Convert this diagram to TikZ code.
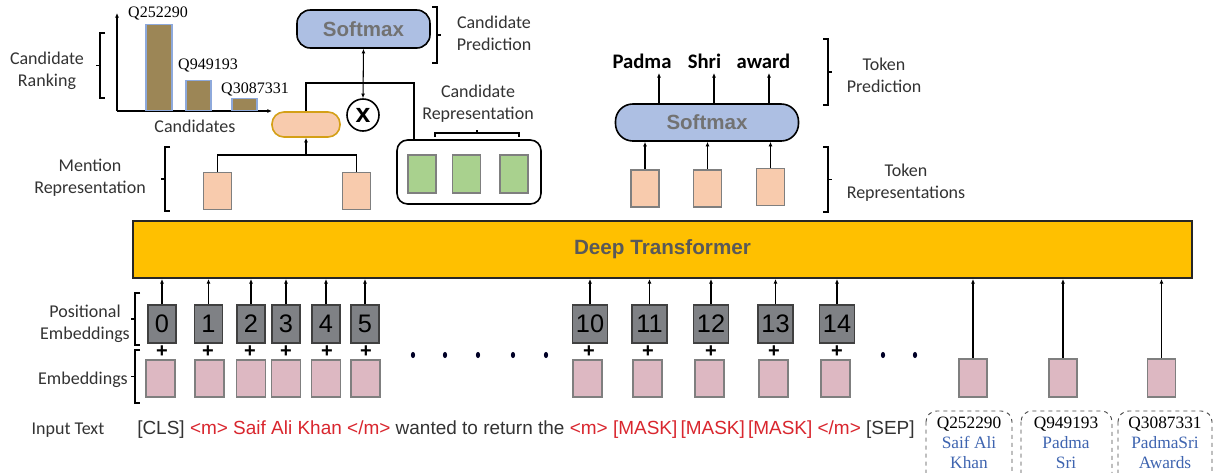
\documentclass[tikz,border=0pt]{standalone}
\usepackage{fontspec}
\setmainfont{Carlito}
\newfontfamily\arialf{Liberation Sans}
\newfontfamily\timesf{Liberation Serif}
\usetikzlibrary{arrows.meta,calc}
\definecolor{peachc}{HTML}{F8CBAD}
\definecolor{greenc}{HTML}{A9D18E}
\definecolor{pinkc}{HTML}{DDB8C2}
\definecolor{posc}{HTML}{7F8185}
\definecolor{goldc}{HTML}{FFC000}
\definecolor{softc}{HTML}{ADBFE3}
\definecolor{barc}{HTML}{9C8656}
\definecolor{barline}{HTML}{8EA9DB}
\definecolor{redt}{HTML}{D9262E}
\definecolor{bluet}{HTML}{3E64B0}
\definecolor{darkt}{HTML}{333333}
\definecolor{grayt}{HTML}{595959}
\definecolor{boxgray}{HTML}{7F7F7F}
\definecolor{pillline}{HTML}{D4A017}
\tikzset{
  arr/.style={-{Latex[length=3.5pt,width=3pt]}, line width=0.8pt},
  darr/.style={{Latex[length=3.5pt,width=3pt]}-{Latex[length=3.5pt,width=3pt]}, line width=0.8pt},
  conn/.style={line width=0.8pt},
  peach/.style={draw=boxgray, line width=1.2pt, fill=peachc, minimum width=21pt, minimum height=27.75pt, inner sep=0pt},
  greenbox/.style={draw=boxgray, line width=1.2pt, fill=greenc, minimum width=21pt, minimum height=28.5pt, inner sep=0pt},
  pinkbox/.style={draw=boxgray, line width=1.2pt, fill=pinkc, minimum width=21.5pt, minimum height=27.75pt, inner sep=0pt},
  posbox/.style={draw=black!75, line width=1.2pt, fill=posc, minimum width=21pt, minimum height=28.5pt, inner sep=0pt, font=\arialf\fontsize{19}{19}\selectfont},
  posbox2/.style={posbox, minimum width=26pt},
  softbox/.style={draw=black, line width=1.2pt, fill=softc, inner sep=0pt, font=\arialf\bfseries\fontsize{15.4}{16}\selectfont, text=grayt!85},
  lbl/.style={font=\fontsize{13.5}{16.5}\selectfont, align=center, text=darkt},
  qlbl/.style={font=\timesf\fontsize{12}{14}\selectfont},
  plus/.style={font=\arialf\bfseries\fontsize{15}{15}\selectfont},
  word/.style={font=\bfseries\fontsize{15.5}{16}\selectfont},
  entbox/.style={draw=black!70, dashed, line width=0.7pt, rounded corners=8pt},
  brk/.style={line width=1.3pt},
}
\newcommand\leftbrk[3]{\draw[brk] (#1+5,#2) -- (#1,#2) -- (#1,#3) -- (#1+5,#3); \draw[brk] (#1,{(#2+#3)/2}) -- (#1-4,{(#2+#3)/2});}
\newcommand\rightbrk[3]{\draw[brk] (#1-5,#2) -- (#1,#2) -- (#1,#3) -- (#1-5,#3); \draw[brk] (#1,{(#2+#3)/2}) -- (#1+4,{(#2+#3)/2});}
\begin{document}
\begin{tikzpicture}[x=0.75pt,y=-0.75pt]
\useasboundingbox (0,0) rectangle (1214,472);
\fill[white] (0,0) rectangle (1214,472);

% ---------- Transformer ----------
\node[draw=black!85, line width=1.5pt, fill=goldc, minimum width=794pt, minimum height=42.75pt, inner sep=0pt,
      font=\arialf\bfseries\fontsize{15.5}{16}\selectfont, text=grayt] (tr) at (662.5,249.5) {Deep Transformer};

% ---------- Bar chart ----------
\coordinate (org) at (117,111);
\coordinate (ytop) at (117,13);
\coordinate (xend) at (272,111);
\draw[arr] (org) -- (ytop);
\draw[arr] (org) -- (xend);
\node[draw=barline, line width=0.8pt, fill=barc, minimum width=19.5pt, minimum height=64.5pt, inner sep=0pt, anchor=south] (b1) at (159,111) {};
\node[draw=barline, line width=0.8pt, fill=barc, minimum width=18.75pt, minimum height=22.5pt, inner sep=0pt, anchor=south] (b2) at (198.5,111) {};
\node[draw=barline, line width=0.8pt, fill=barc, minimum width=18.75pt, minimum height=9pt, inner sep=0pt, anchor=south] (b3) at (244.5,111) {};
\node[qlbl] (q1) at (158,13) {Q252290};
\node[qlbl] (q2) at (208,65) {Q949193};
\node[qlbl] (q3) at (255,89) {Q3087331};
\node[lbl] (cands) at (195,126) {Candidates};
\node[lbl] (crank) at (47,71) {Candidate\\Ranking};
\leftbrk{100}{33}{98}

% ---------- Mention representation ----------
\node[peach] (m1) at (217.5,191) {};
\node[peach] (m2) at (356.5,191) {};
\node[draw=pillline, line width=1.2pt, fill=peachc, rounded corners=9pt, minimum width=51pt, minimum height=18.75pt, inner sep=0pt] (pill) at (306,124.5) {};
\coordinate (mj) at (306,155);
\draw[conn] (m1.north) |- (mj) -| (m2.north);
\draw[arr] (mj) -- (pill.south);
\node[lbl] (mrep) at (90,178) {Mention\\Representation};
\leftbrk{165}{147}{211}

% ---------- Candidate side ----------
\node[draw=black, line width=1.2pt, circle, minimum size=24pt, inner sep=0pt, font=\arialf\bfseries\fontsize{20}{20}\selectfont] (mul) at (363,115) {x};
\node[softbox, rounded corners=10pt, minimum width=99.75pt, minimum height=28.5pt] (sm1) at (363.5,29) {Softmax};
\draw[darr] (mul.north) -- (sm1.south);
\node[draw=black, line width=1.2pt, rounded corners=8pt, minimum width=108pt, minimum height=48pt, inner sep=0pt] (cbox) at (469,172) {};
\node[greenbox] (g1) at (422,174) {};
\node[greenbox] (g2) at (466.5,174) {};
\node[greenbox] (g3) at (514,174) {};
\coordinate (cj) at (414,83);
\draw[conn] (pill.north) |- (cj) -- (cbox.north -| cj);
\node[lbl] (crep) at (478,104) {Candidate\\Representation};
\draw[line width=1pt] (435,137) -- (435,133) -- (519,133) -- (519,137);
\draw[line width=1pt] (477,133) -- (477,130);
\node[lbl] (cpred) at (494,33) {Candidate\\Prediction};
\rightbrk{437}{7}{63}

% ---------- Token side ----------
\node[softbox, rounded corners=13pt, minimum width=137.25pt, minimum height=27.75pt] (sm2) at (707,122.5) {Softmax};
\node[peach] (t1) at (645,188.5) {};
\node[peach] (t2) at (707.5,188.5) {};
\node[peach] (t3) at (770.5,187) {};
\foreach \t in {t1,t2,t3} \draw[arr] (\t.north) -- (\t.north |- sm2.south);
\node[word] (w1) at (642,61) {Padma};
\node[word] (w2) at (704.5,61) {Shri};
\node[word] (w3) at (763.5,61) {award};
\coordinate (o1) at (659,73);
\coordinate (o2) at (714,73);
\coordinate (o3) at (769,73);
\draw[arr] (sm2.north -| o1) -- (o1);
\draw[arr] (sm2.north -| o2) -- (o2);
\draw[arr] (sm2.north -| o3) -- (o3);
\node[lbl] (tpred) at (884,75) {Token\\Prediction};
\rightbrk{828}{39}{105}
\node[lbl] (trep) at (906,183) {Token\\Representations};
\rightbrk{828}{147}{212}

% ---------- Positional embeddings ----------
\node[posbox] (p0) at (162,324) {0};
\node[posbox] (p1) at (208.5,324) {1};
\node[posbox] (p2) at (251,324) {2};
\node[posbox] (p3) at (286,324) {3};
\node[posbox] (p4) at (326,324) {4};
\node[posbox] (p5) at (365,324) {5};
\node[posbox2] (p10) at (590,324) {10};
\node[posbox2] (p11) at (649.5,324) {11};
\node[posbox2] (p12) at (711,324) {12};
\node[posbox2] (p13) at (775.5,324) {13};
\node[posbox2] (p14) at (837,324) {14};
\foreach \p in {p0,p1,p2,p3,p4,p5,p10,p11,p12,p13,p14} \draw[arr] (\p.north) -- (\p.north |- tr.south);

\node[pinkbox] (e0) at (160.5,378.5) {};
\node[pinkbox] (e1) at (209.5,378.5) {};
\node[pinkbox] (e2) at (251,378.5) {};
\node[pinkbox] (e3) at (286,378.5) {};
\node[pinkbox] (e4) at (326,378.5) {};
\node[pinkbox] (e5) at (365.5,378.5) {};
\node[pinkbox] (e10) at (587.5,378.5) {};
\node[pinkbox] (e11) at (647.5,378.5) {};
\node[pinkbox] (e12) at (709.5,378.5) {};
\node[pinkbox] (e13) at (773.5,378.5) {};
\node[pinkbox] (e14) at (835.5,378.5) {};
\foreach \x in {162,208,250,286,327,366,589,648,711,774,837} \node[plus] at (\x,352) {+};
\foreach \x in {413,445,478,513,546,883,915} \fill[black!85!blue] (\x,355) ellipse (1.6pt and 2.3pt);

\node[lbl] (pe) at (85,324) {Positional\\Embeddings};
\leftbrk{135}{293}{345}
\node[lbl] (emb) at (83,380) {Embeddings};
\leftbrk{135}{350}{403}

% ---------- Entity embeddings ----------
\node[pinkbox, minimum width=21pt, minimum height=28.5pt] (k1) at (973,378) {};
\node[pinkbox, minimum width=21pt, minimum height=28.5pt] (k2) at (1063,378) {};
\node[pinkbox, minimum width=21pt, minimum height=28.5pt] (k3) at (1161.5,378) {};
\foreach \k in {k1,k2,k3} \draw[arr] (\k.north) -- (\k.north |- tr.south);
\draw[entbox] (926,411) rectangle (1012,492);
\draw[entbox] (1021,411) rectangle (1112,492);
\draw[entbox] (1118,411) rectangle (1212,492);
\node[qlbl, font=\timesf\fontsize{13}{14}\selectfont, align=center] (n1) at (969,443) {Q252290\\[1pt]\textcolor{bluet}{Saif Ali}\\[1pt]\textcolor{bluet}{Khan}};
\node[qlbl, font=\timesf\fontsize{13}{14}\selectfont, align=center] (n2) at (1066,443) {Q949193\\[1pt]\textcolor{bluet}{Padma}\\[1pt]\textcolor{bluet}{Sri}};
\node[qlbl, font=\timesf\fontsize{13}{14}\selectfont, align=center] (n3) at (1165,443) {Q3087331\\[1pt]\textcolor{bluet}{PadmaSri}\\[1pt]\textcolor{bluet}{Awards}};

% ---------- Input text ----------
\node[lbl] (inp) at (68,430) {Input Text};
\node[anchor=west, inner sep=0pt, font=\arialf\fontsize{12}{14}\selectfont, text=darkt] (sent) at (137,430)
 {\resizebox{583pt}{!}{[CLS] \textcolor{redt}{<m> Saif Ali Khan </m>} wanted to return the \textcolor{redt}{<m> [MASK]\,[MASK]\,[MASK] </m>} [SEP]}};
\end{tikzpicture}
\end{document}
